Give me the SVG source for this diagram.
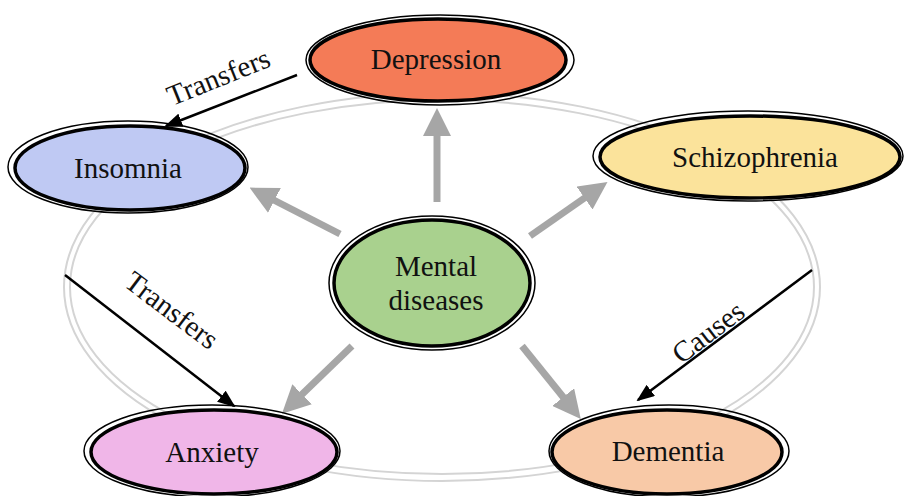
<svg xmlns="http://www.w3.org/2000/svg" width="905" height="496" viewBox="0 0 905 496">
<style>
.t{font-family:"Liberation Serif","Times New Roman",serif;font-size:29px;fill:#111;text-anchor:middle}
.o{fill:none;stroke:#000;stroke-width:1.5}
.i{stroke:#000;stroke-width:3.5}
.g{stroke:#a6a6a6;stroke-width:7;fill:none}
.b{stroke:#000;stroke-width:2.5;fill:none}
.bg{fill:none;stroke:#d4d4d4;stroke-width:2}
</style>
<defs>
<marker id="ga" markerWidth="4" markerHeight="4" refX="2" refY="2" orient="auto" markerUnits="strokeWidth"><path d="M0,0 L4,2 L0,4 Z" fill="#a6a6a6"/></marker>
<marker id="ba" markerWidth="18" markerHeight="14" refX="16" refY="7" orient="auto" markerUnits="userSpaceOnUse"><path d="M0,0 L18,7 L0,14 Z" fill="#000"/></marker>
</defs>
<g id="background">
<ellipse class="bg" cx="442" cy="287" rx="378" ry="194"/>
<ellipse class="bg" cx="442" cy="287" rx="372" ry="187"/>
</g>
<g id="connectors">
<line class="g" x1="437" y1="202" x2="437" y2="122" marker-end="url(#ga)"/>
<line class="g" x1="340" y1="234" x2="262" y2="194" marker-end="url(#ga)"/>
<line class="g" x1="530" y1="236" x2="596" y2="190" marker-end="url(#ga)"/>
<line class="g" x1="352" y1="346" x2="292" y2="404" marker-end="url(#ga)"/>
<line class="g" x1="522" y1="346" x2="572" y2="408" marker-end="url(#ga)"/>
<line class="b" x1="297" y1="75" x2="166" y2="126" marker-end="url(#ba)"/>
<line class="b" x1="65" y1="275" x2="234" y2="406" marker-end="url(#ba)"/>
<line class="b" x1="812" y1="270" x2="638" y2="400" marker-end="url(#ba)"/>
<text class="t" transform="translate(222,86) rotate(-22)">Transfers</text>
<text class="t" transform="translate(166,318) rotate(37)">Transfers</text>
<text class="t" transform="translate(714,340) rotate(-37)">Causes</text>
</g>
<g id="depression">
<ellipse class="o" cx="440" cy="60" rx="134" ry="45"/>
<ellipse class="i" cx="438" cy="60" rx="128" ry="41" fill="#f47b57"/>
<text class="t" x="436" y="69">Depression</text>
</g>
<g id="insomnia">
<ellipse class="o" cx="128" cy="167" rx="120" ry="46"/>
<ellipse class="i" cx="130" cy="168" rx="115" ry="42" fill="#bfc9f3"/>
<text class="t" x="128" y="178">Insomnia</text>
</g>
<g id="schizophrenia">
<ellipse class="o" cx="748" cy="156" rx="155" ry="45"/>
<ellipse class="i" cx="750" cy="157" rx="150" ry="41" fill="#fbe39b"/>
<text class="t" x="755" y="167">Schizophrenia</text>
</g>
<g id="mental">
<ellipse class="o" cx="432" cy="283" rx="103" ry="67"/>
<ellipse class="i" cx="432" cy="283" rx="98" ry="63" fill="#a9d18e"/>
<text class="t" x="436" y="276">Mental</text>
<text class="t" x="436" y="310">diseases</text>
</g>
<g id="anxiety">
<ellipse class="o" cx="212" cy="451" rx="128" ry="46"/>
<ellipse class="i" cx="214" cy="452" rx="123" ry="42" fill="#f0b6e8"/>
<text class="t" x="212" y="462">Anxiety</text>
</g>
<g id="dementia">
<ellipse class="o" cx="669" cy="451" rx="120" ry="46"/>
<ellipse class="i" cx="667" cy="452" rx="115" ry="42" fill="#f8c9a7"/>
<text class="t" x="668" y="461">Dementia</text>
</g>
</svg>
